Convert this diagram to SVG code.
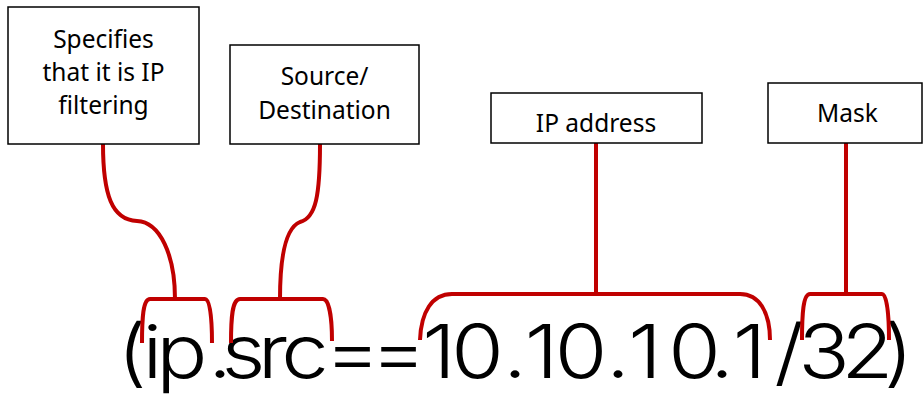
<svg xmlns="http://www.w3.org/2000/svg" width="924" height="394" viewBox="0 0 924 394">
<style>
.box{fill:#fff;stroke:#000;stroke-width:1.5}
.lbl{font-family:"Noto Sans","Open Sans","Liberation Sans",sans-serif;font-size:24.5px;fill:#000;text-anchor:middle}
.con{fill:none;stroke:#c00000;stroke-width:4;stroke-linejoin:round}
.expr{font-family:Inter,"DejaVu Sans","Liberation Sans",sans-serif;font-weight:300;font-size:74px;fill:#000;text-anchor:middle}
</style>
<rect width="924" height="394" fill="#fff"/>
<g id="expression" transform="scale(1.15,1)">
<text class="expr" y="378" x="114.78 132.61 158.26 191.3 211.74 237.39 265.22 306.52 346.52 381.74 415.22 447.83 470.87 505.22 537.39 560.87 603.91 627.83 651.74 686.09 716.52 754.35 781.3">(ip.src==10.10.10.1/32)</text>
</g>
<g id="connectors">
<path class="con" d="M103,144 C103,195 112,220 137,221 C160,222 175,255 175,299"/>
<path class="con" d="M142,343 C142,318 143,299 150,299 L205,299 C210,299 212,318 212,343"/>
<path class="con" d="M320,144 C320,195 316,218 300,222 C285,228 280,260 280,299"/>
<path class="con" d="M231,343 C231,318 232,299 240,299 L323,299 C329,299 332,318 332,341"/>
<path class="con" d="M596,143 L596,294"/>
<path class="con" d="M420,340 C421,312 432,294 452,294 L740,294 C759,294 770,312 770,340"/>
<path class="con" d="M846,143 L846,294"/>
<path class="con" d="M802,340 C802,315 803,294 810,294 L882,294 C887,294 889,315 889,340"/>
</g>
<g id="node-ip">
<rect class="box" x="8" y="7" width="191" height="137"/>
<text class="lbl" x="103.5" y="48">Specifies</text>
<text class="lbl" x="103.5" y="81">that it is IP</text>
<text class="lbl" x="103.5" y="114">filtering</text>
</g>
<g id="node-srcdst">
<rect class="box" x="230" y="45" width="189" height="99"/>
<text class="lbl" x="324.5" y="85">Source/</text>
<text class="lbl" x="324.5" y="119">Destination</text>
</g>
<g id="node-addr">
<rect class="box" x="491" y="93" width="211" height="50"/>
<text class="lbl" x="596" y="132">IP address</text>
</g>
<g id="node-mask">
<rect class="box" x="768" y="83" width="154" height="60"/>
<text class="lbl" x="847.5" y="122">Mask</text>
</g>
</svg>
